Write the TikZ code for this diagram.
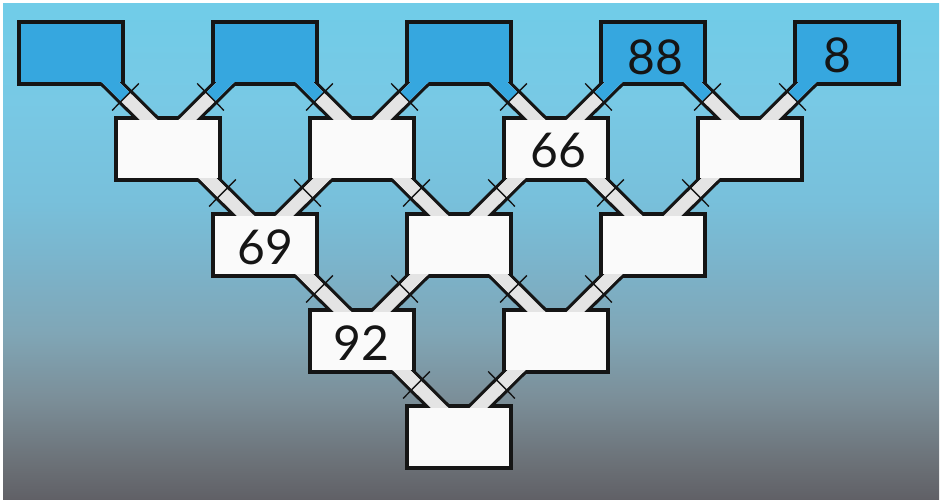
\documentclass[tikz,border=0pt]{standalone}
\usepackage{fontspec}
\setmainfont{Lato}
\usetikzlibrary{calc}
\definecolor{bluebox}{HTML}{36A7DF}
\definecolor{pipegray}{HTML}{E4E4E4}
\definecolor{boxwhite}{HTML}{FAFAFA}
\definecolor{ink}{HTML}{151515}
\definecolor{bga}{HTML}{606066}
\definecolor{bgb}{HTML}{6A6F75}
\definecolor{bgc}{HTML}{7B8E98}
\definecolor{bgd}{HTML}{80A6B6}
\definecolor{bge}{HTML}{7BB3CA}
\definecolor{bgg}{HTML}{78C0DB}
\definecolor{bgh}{HTML}{78C9E5}
\definecolor{bgf}{HTML}{70CCE8}
\pgfdeclareverticalshading{bgshade}{100bp}{color(0bp)=(bga); color(25bp)=(bga); color(28.3bp)=(bgb); color(35.1bp)=(bgc); color(41.8bp)=(bgd); color(48.5bp)=(bge); color(55.2bp)=(bgg); color(65.3bp)=(bgh); color(75bp)=(bgf); color(100bp)=(bgf)}
\pgfdeclarelayer{bgl}
\pgfdeclarelayer{pipeback}
\pgfdeclarelayer{borders}
\pgfdeclarelayer{pipefront}
\pgfsetlayers{bgl,pipeback,borders,pipefront,main}
\tikzset{
  boxfill/.style={inner sep=0pt, outer sep=0pt, minimum width=100.6pt, minimum height=58.6pt, fill=boxwhite},
  topfill/.style={boxfill, fill=bluebox},
  boxedge/.style={draw=ink, line width=3.4pt},
  pipeout/.style={draw=ink, line width=18.8pt},
  pipein/.style={draw=pipegray, line width=12.4pt},
  crossmark/.style={draw=ink, line width=1.4pt},
  lbl/.style={font=\fontsize{48}{48}\selectfont, text=ink, inner sep=0pt}
}
\newcommand{\pipeconn}[4]{%
  \coordinate (#1#2s) at ([xshift=#3*10pt]#1.center);
  \coordinate (#1#2e) at ([xshift=#3*10pt]#2.center);
  \coordinate (#1#2x) at ($(#1#2s)!0.458!(#1#2e)$);
  \begin{pgfonlayer}{pipeback}\draw[pipeout] (#1#2s) -- (#1#2e);\end{pgfonlayer}
  \begin{pgfonlayer}{pipefront}\draw[pipein] (#1#2s) -- (#1#2e);\draw[pipein,draw=#4] (#1#2s) -- (#1#2x);\end{pgfonlayer}
  \draw[crossmark] ($(#1#2x)!19pt!90:(#1#2e)$) -- ($(#1#2x)!19pt!-90:(#1#2e)$);
}
\newcommand{\boxedgeof}[1]{%
  \begin{pgfonlayer}{borders}\draw[boxedge] ([shift={(-1.7,-1.7)}]#1.north west) rectangle ([shift={(1.7,1.7)}]#1.south east);\end{pgfonlayer}%
}
\begin{document}
\begin{tikzpicture}[x=1pt,y=-1pt]
\useasboundingbox (0,0) rectangle (944,500);
\begin{pgfonlayer}{bgl}
  \fill[white] (0,0) rectangle (944,500);
  \shade[shading=bgshade] (3,4) rectangle (939,500);
\end{pgfonlayer}
% boxes
\node[topfill] (r0c0) at (71,53) {};
\node[topfill] (r0c2) at (265,53) {};
\node[topfill] (r0c4) at (459,53) {};
\node[topfill] (r0c6) at (653,53) {};
\node[topfill] (r0c8) at (847,53) {};
\node[boxfill] (r1c1) at (168,149) {};
\node[boxfill] (r1c3) at (362,149) {};
\node[boxfill] (r1c5) at (556,149) {};
\node[boxfill] (r1c7) at (750,149) {};
\node[boxfill] (r2c2) at (265,245) {};
\node[boxfill] (r2c4) at (459,245) {};
\node[boxfill] (r2c6) at (653,245) {};
\node[boxfill] (r3c3) at (362,341) {};
\node[boxfill] (r3c5) at (556,341) {};
\node[boxfill] (r4c4) at (459,437) {};
\foreach \b in {r0c0,r0c2,r0c4,r0c6,r0c8,r1c1,r1c3,r1c5,r1c7,r2c2,r2c4,r2c6,r3c3,r3c5,r4c4}{\boxedgeof{\b}}
% pipes
\pipeconn{r0c0}{r1c1}{1}{bluebox}
\pipeconn{r0c2}{r1c1}{-1}{bluebox}
\pipeconn{r0c2}{r1c3}{1}{bluebox}
\pipeconn{r0c4}{r1c3}{-1}{bluebox}
\pipeconn{r0c4}{r1c5}{1}{bluebox}
\pipeconn{r0c6}{r1c5}{-1}{bluebox}
\pipeconn{r0c6}{r1c7}{1}{bluebox}
\pipeconn{r0c8}{r1c7}{-1}{bluebox}
\pipeconn{r1c1}{r2c2}{1}{pipegray}
\pipeconn{r1c3}{r2c2}{-1}{pipegray}
\pipeconn{r1c3}{r2c4}{1}{pipegray}
\pipeconn{r1c5}{r2c4}{-1}{pipegray}
\pipeconn{r1c5}{r2c6}{1}{pipegray}
\pipeconn{r1c7}{r2c6}{-1}{pipegray}
\pipeconn{r2c2}{r3c3}{1}{pipegray}
\pipeconn{r2c4}{r3c3}{-1}{pipegray}
\pipeconn{r2c4}{r3c5}{1}{pipegray}
\pipeconn{r2c6}{r3c5}{-1}{pipegray}
\pipeconn{r3c3}{r4c4}{1}{pipegray}
\pipeconn{r3c5}{r4c4}{-1}{pipegray}
% labels
\node[lbl] (t88) at ([shift={(2,4)}]r0c6) {88};
\node[lbl] (t8) at ([shift={(-10,2)}]r0c8) {8};
\node[lbl] (t66) at ([shift={(2,1)}]r1c5) {66};
\node[lbl] (t69) at ([shift={(0,2)}]r2c2) {69};
\node[lbl] (t92) at ([shift={(-1,2)}]r3c3) {92};
\end{tikzpicture}
\end{document}
